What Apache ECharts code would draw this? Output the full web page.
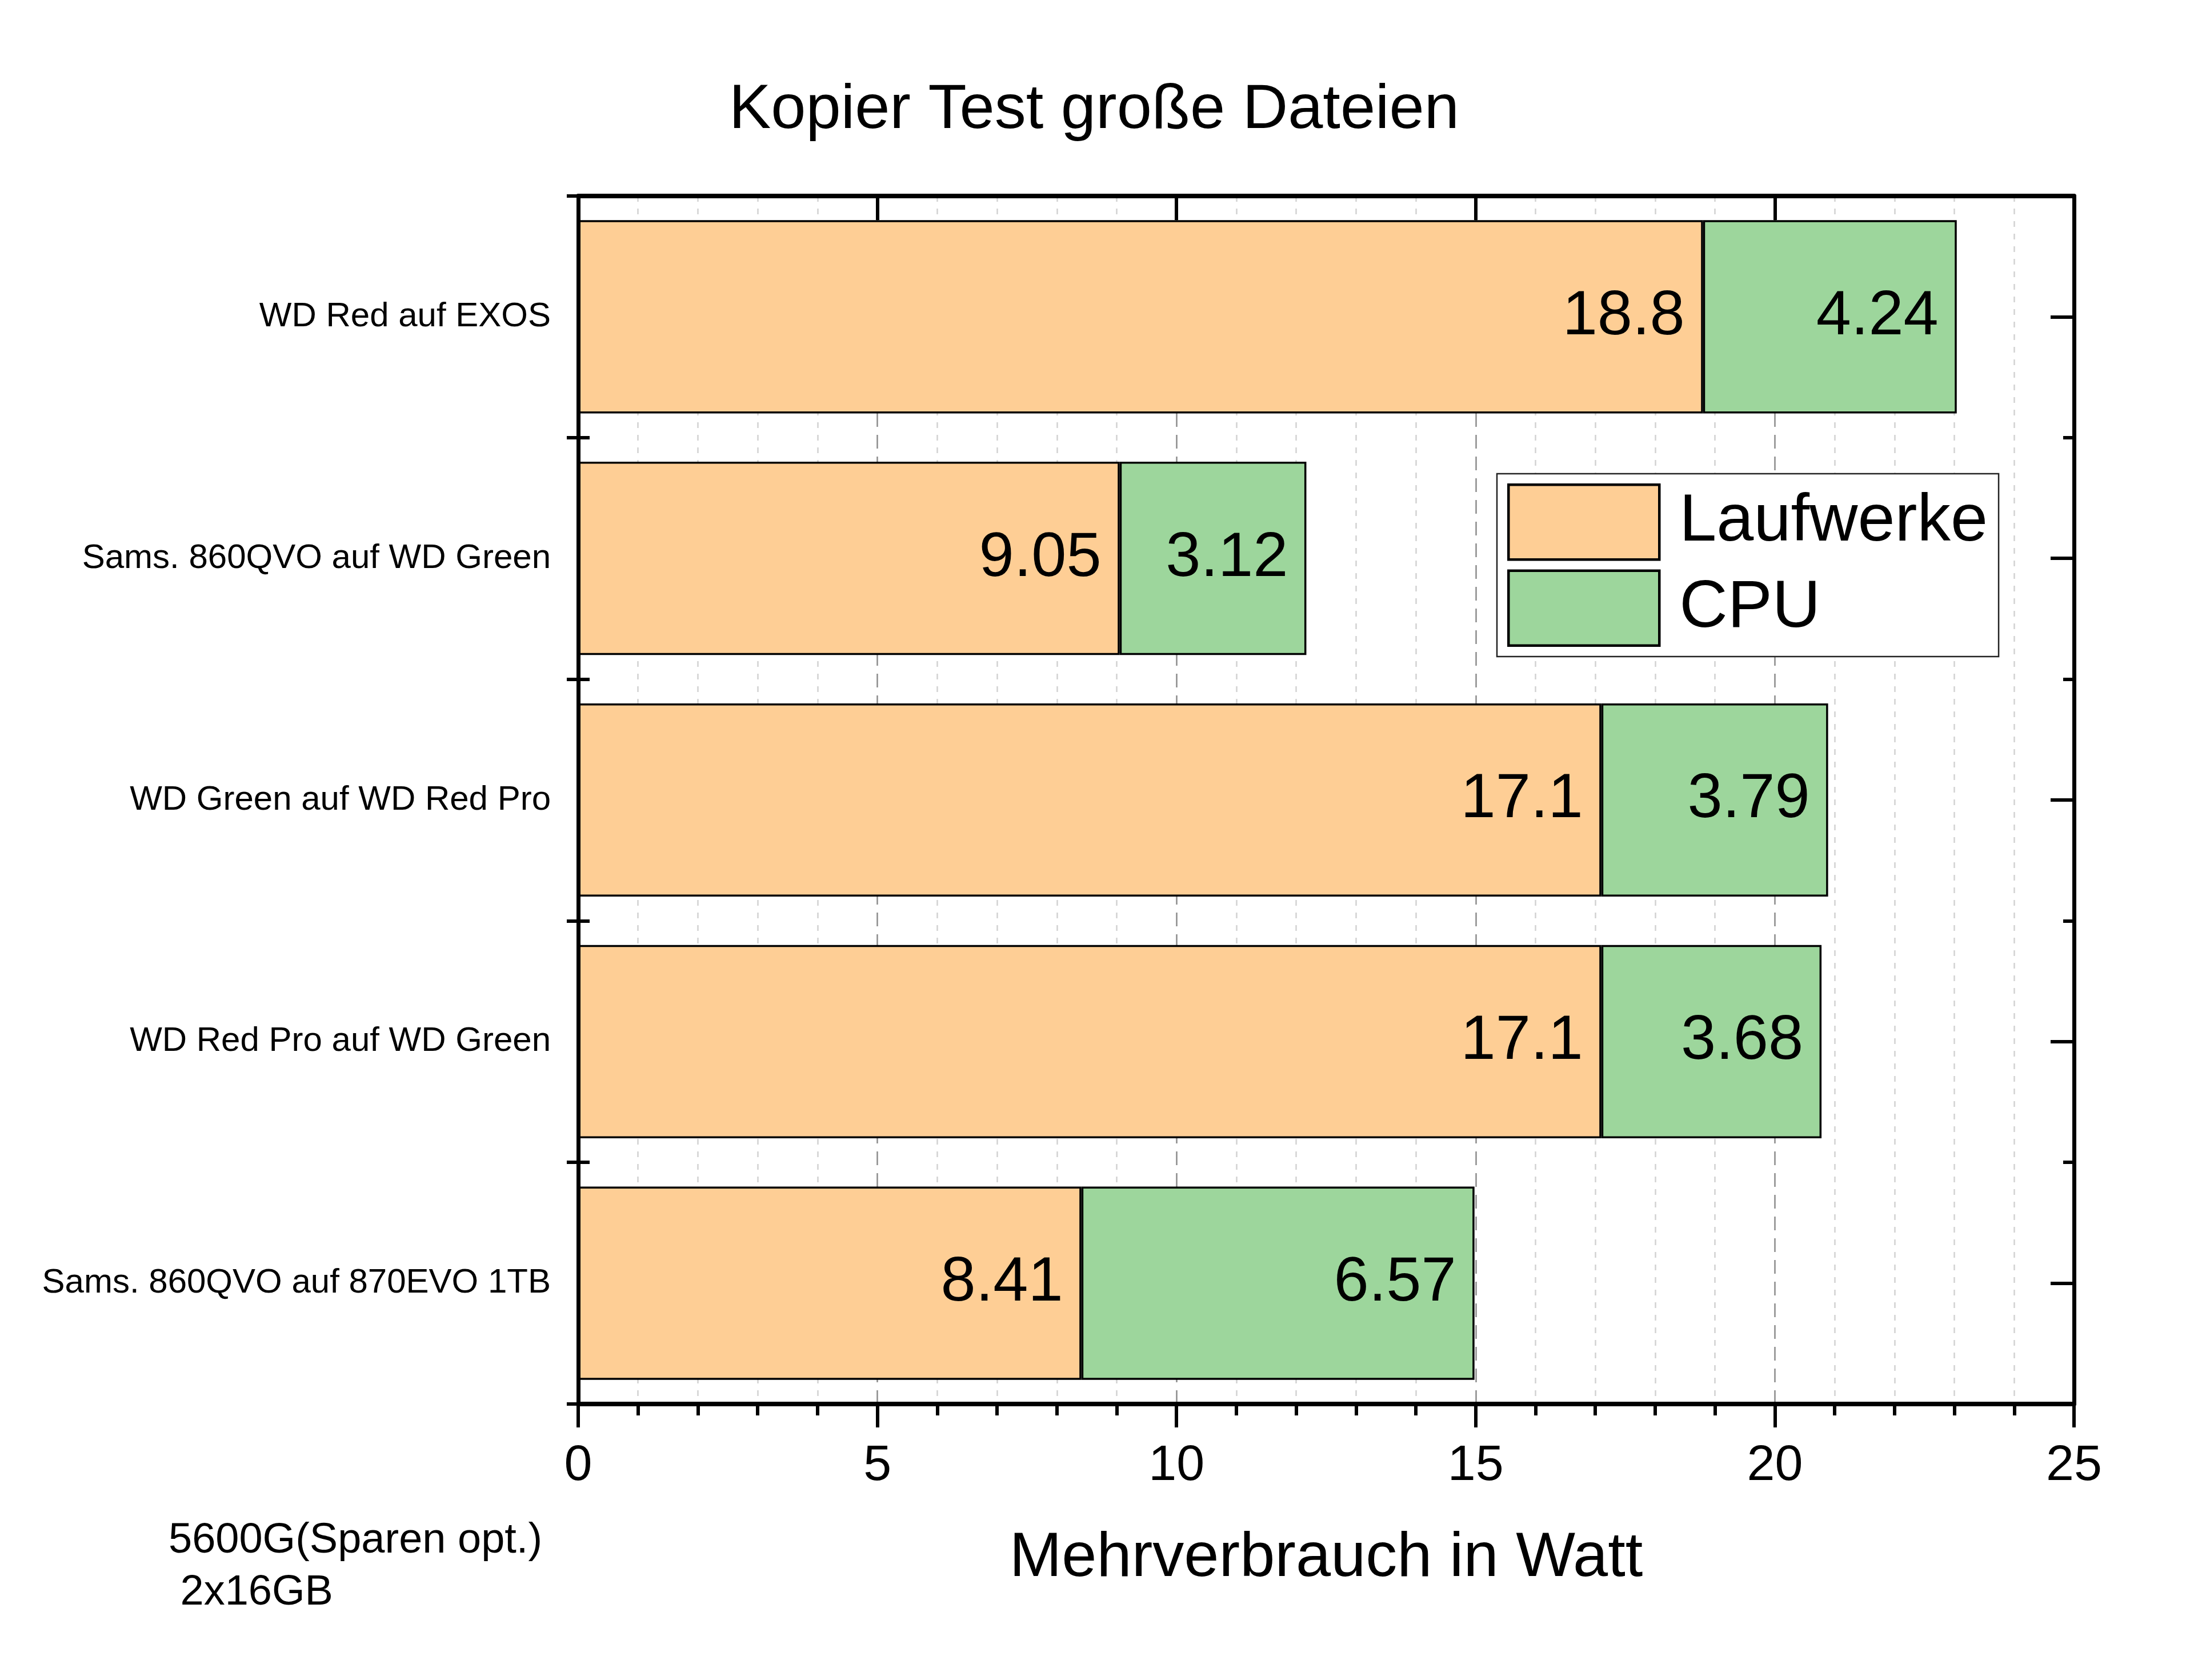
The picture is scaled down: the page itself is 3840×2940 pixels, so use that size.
<!DOCTYPE html>
<html>
<head>
<meta charset="utf-8">
<script src="https://cdn.jsdelivr.net/npm/echarts@6/dist/echarts.min.js"></script>
<style>
html,body{margin:0;padding:0;background:#fff;}
#chart{width:3840px;height:2940px;}
</style>
</head>
<body>
<div id="chart"></div>
<script>
const categories = ['WD Red auf EXOS', 'Sams. 860QVO auf WD Green', 'WD Green auf WD Red Pro', 'WD Red Pro auf WD Green', 'Sams. 860QVO auf 870EVO 1TB'];
const laufwerke = [18.8, 9.05, 17.1, 17.1, 8.41];
const cpu = [4.24, 3.12, 3.79, 3.68, 6.57];
const seriesNames = ['Laufwerke', 'CPU'];
const titleText = 'Kopier Test große Dateien';
const axisName = 'Mehrverbrauch in Watt';
const noteLines = ['5600G(Sparen opt.)', ' 2x16GB'];

const FONT = 'Liberation Sans, Arial, sans-serif';
const chart = echarts.init(document.getElementById('chart'));

const catAxisBase = {
  type: 'category', data: categories, inverse: true,
  splitLine: {show: false}
};

const barLabel = {
  show: true, position: 'insideRight', distance: 32,
  fontSize: 110, color: '#000', fontFamily: FONT, textBorderWidth: 0
};

chart.setOption({
  backgroundColor: '#fff',
  animation: false,
  textStyle: {fontFamily: FONT, color: '#000'},
  title: {
    text: titleText, left: 1276, top: 139, padding: 0,
    textStyle: {fontSize: 110, fontWeight: 'normal', color: '#000', fontFamily: FONT}
  },
  grid: {left: 1012, right: 210, top: 343, bottom: 483, containLabel: false},
  legend: {
    data: seriesNames, orient: 'vertical', left: 2620, top: 829,
    padding: [17, 19, 17, 18], itemWidth: 264, itemHeight: 131, itemGap: 15,
    icon: 'rect',
    borderColor: '#222', borderWidth: 2.5, backgroundColor: '#fff',
    itemStyle: {borderColor: '#000', borderWidth: 4.5},
    textStyle: {fontSize: 117, color: '#000', fontFamily: FONT, padding: [0, 0, 0, 30]}
  },
  xAxis: [
    {
      type: 'value', position: 'bottom', min: 0, max: 25, interval: 5, z: 10,
      name: axisName, nameLocation: 'middle', nameGap: 216,
      nameTextStyle: {fontSize: 110, color: '#000', fontFamily: FONT},
      axisLine: {show: true, onZero: false, lineStyle: {color: '#000', width: 8}},
      axisTick: {show: true, inside: false, length: 41, lineStyle: {color: '#000', width: 6}},
      minorTick: {show: true, splitNumber: 5, length: 20, lineStyle: {color: '#000', width: 6}},
      axisLabel: {fontSize: 88, color: '#000', margin: 65, fontFamily: FONT},
      splitLine: {show: false}, minorSplitLine: {show: false}
    },
    {
      type: 'value', position: 'top', min: 0, max: 25, interval: 5, z: 10,
      axisLine: {show: true, onZero: false, lineStyle: {color: '#000', width: 8}},
      axisTick: {show: true, inside: true, length: 42, lineStyle: {color: '#000', width: 6}},
      minorTick: {show: false},
      axisLabel: {show: false},
      splitLine: {show: false}
    },
    {
      type: 'value', position: 'bottom', min: 0, max: 25, interval: 5, z: 0,
      axisLine: {show: false, onZero: false}, axisTick: {show: false}, axisLabel: {show: false},
      splitLine: {show: true, lineStyle: {color: '#8c8c8c', width: 2.5, type: [24, 14]}},
      minorTick: {show: false, splitNumber: 5},
      minorSplitLine: {show: true, lineStyle: {color: '#d2d2d2', width: 2.5, type: [10, 12]}}
    }
  ],
  yAxis: [
    Object.assign({}, catAxisBase, {
      position: 'left', z: 10,
      axisLine: {show: true, onZero: false, lineStyle: {color: '#000', width: 7}},
      axisTick: {show: true, inside: false, length: 20, lineStyle: {color: '#000', width: 6}},
      axisLabel: {fontSize: 60, color: '#000', margin: 48, fontFamily: FONT}
    }),
    Object.assign({}, catAxisBase, {
      position: 'left', z: 10,
      axisLine: {show: false, onZero: false},
      axisTick: {show: true, inside: true, length: 20, lineStyle: {color: '#000', width: 6}},
      axisLabel: {show: false}
    }),
    Object.assign({}, catAxisBase, {
      position: 'right', z: 10,
      axisLine: {show: true, onZero: false, lineStyle: {color: '#000', width: 7}},
      axisTick: {show: true, inside: true, length: 19, lineStyle: {color: '#000', width: 6}},
      axisLabel: {show: false}
    }),
    Object.assign({}, catAxisBase, {
      position: 'right', z: 10,
      axisLine: {show: false, onZero: false},
      axisTick: {show: true, inside: true, length: 41, alignWithLabel: true, lineStyle: {color: '#000', width: 6}},
      axisLabel: {show: false}
    })
  ],
  series: [
    {
      name: seriesNames[0], type: 'bar', stack: 'total', data: laufwerke,
      xAxisIndex: 0, yAxisIndex: 0, barCategoryGap: '20%',
      itemStyle: {color: '#FECE95', borderColor: '#000', borderWidth: 3.5},
      label: barLabel
    },
    {
      name: seriesNames[1], type: 'bar', stack: 'total', data: cpu,
      xAxisIndex: 0, yAxisIndex: 0, barCategoryGap: '20%',
      itemStyle: {color: '#9DD69C', borderColor: '#000', borderWidth: 3.5},
      label: barLabel
    }
  ],
  graphic: [
    {type: 'text', left: 295, top: 2697 - 37, style: {text: noteLines[0], font: '74px ' + FONT, fill: '#000'}},
    {type: 'text', left: 295, top: 2788 - 37, style: {text: noteLines[1], font: '74px ' + FONT, fill: '#000'}}
  ]
});
</script>
</body>
</html>
